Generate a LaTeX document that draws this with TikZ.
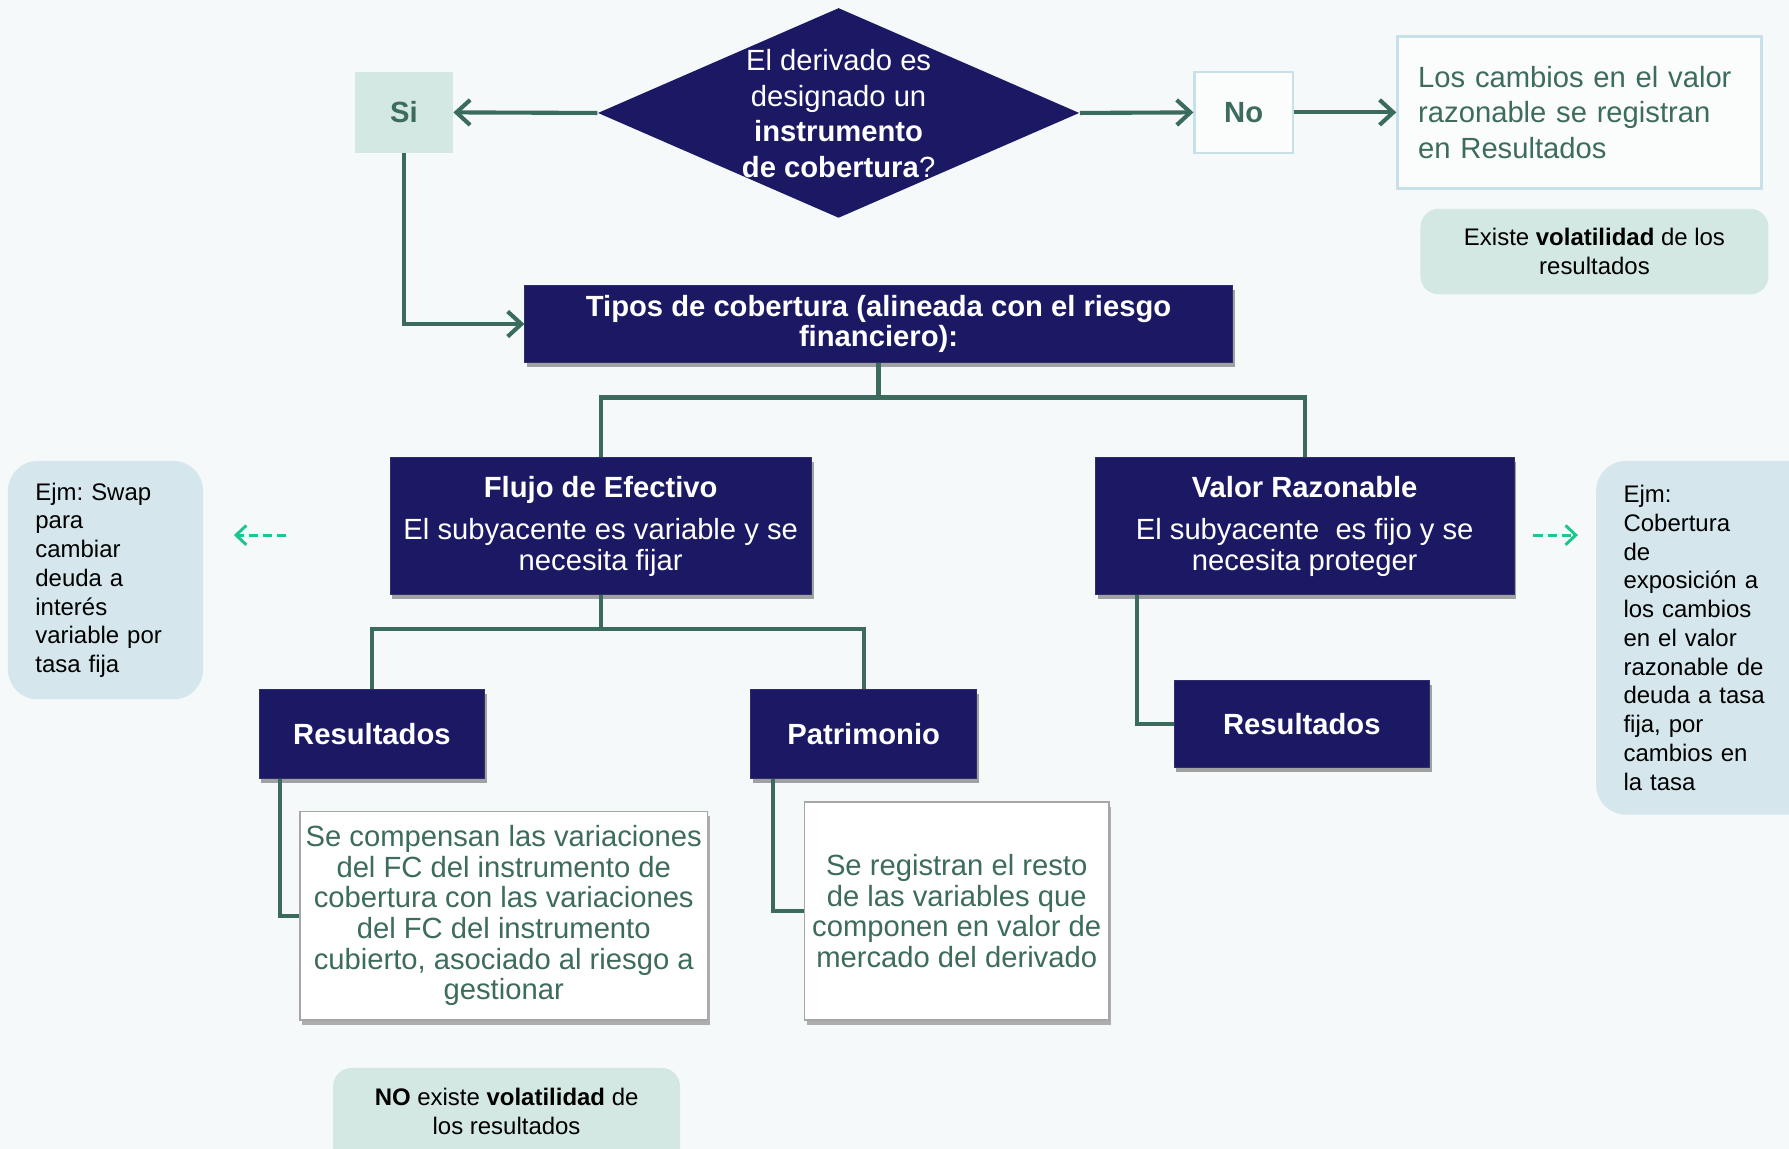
\documentclass[tikz,border=0pt]{standalone}
\usepackage{fontspec}
\setmainfont{Liberation Sans}
\usetikzlibrary{shapes.geometric,arrows.meta,shadows}
\definecolor{bg}{HTML}{F6F9FA}
\definecolor{navy}{HTML}{1C1964}
\definecolor{dgreen}{HTML}{3B6B5E}
\definecolor{tgreen}{HTML}{3D6B5E}
\definecolor{lgreen}{HTML}{D3E8E2}
\definecolor{lblue}{HTML}{D5E7EC}
\definecolor{bord}{HTML}{C8E1E8}
\definecolor{dashc}{HTML}{1CC690}
\frenchspacing
\begin{document}
\begin{tikzpicture}[x=0.5pt,y=-0.5pt,
  navybox/.style={fill=navy,text=white,inner sep=0pt,align=center,
    draw=navy!80!gray,line width=0.4pt,
    drop shadow={shadow xshift=1pt,shadow yshift=-2pt,opacity=0.35,fill=black}},
  whitebox/.style={fill=white,text=tgreen,inner sep=0pt,align=center,
    draw=gray!70,line width=0.6pt,
    drop shadow={shadow xshift=1pt,shadow yshift=-2pt,opacity=0.3,fill=black}},
  softbox/.style={fill=lgreen,rounded corners=8pt,inner sep=0pt,align=center,text=black},
  ejmbox/.style={fill=lblue,rounded corners=13pt,inner sep=0pt,inner xsep=12pt,align=left,text=black},
  conn/.style={draw=dgreen,line width=1.8pt},
  arr/.style={conn,-{Straight Barb[length=6pt,width=11pt]}},
  darr/.style={draw=dashc,line width=1.3pt,dash pattern=on 4pt off 2.2pt,
    -{Straight Barb[length=4.5pt,width=8.5pt]}},
  fmain/.style={font=\fontsize{12.8pt}{15.5pt}\selectfont},
  fsmall/.style={font=\fontsize{10.5pt}{12.6pt}\selectfont},
]
\clip (0,0) rectangle (1568,1007);
\fill[bg] (0,0) rectangle (1568,1007);

% decision
\node[diamond,fill=navy,inner sep=0pt,minimum width=211pt,minimum height=92pt] (d) at (735,99) {};
\node[text=white,align=center,inner sep=0pt,fmain] (dtext) at (735,99.5)
  {El derivado es\\designado un\\\textbf{instrumento}\\\textbf{de cobertura}?};

\node[fill=lgreen,text=tgreen,minimum width=43pt,minimum height=35.5pt,inner sep=0pt,
  font=\fontsize{12.8pt}{15pt}\selectfont\bfseries] (si) at (354,98.5) {Si};
\node[fill=white!60!bg,draw=bord,line width=1pt,text=tgreen,minimum width=43pt,minimum height=35.5pt,inner sep=0pt,
  font=\fontsize{12.8pt}{15pt}\selectfont\bfseries] (no) at (1090,98.5) {No};

\node[fill=white!60!bg,draw=bord,line width=1.2pt,text=tgreen,inner sep=0pt,inner xsep=9pt,
  text width=141.5pt,align=left,minimum height=66.5pt,fmain] (los) at (1384.5,98.5)
  {Los cambios en el valor\\razonable se registran\\en Resultados};

\node[softbox,minimum width=152.5pt,minimum height=37.5pt,fsmall] (exist) at (1397.5,220.5)
  {Existe \textbf{volatilidad} de los\\resultados};

% tipos
\node[navybox,minimum width=310pt,minimum height=34pt,
  font=\fontsize{12.8pt}{13pt}\selectfont\bfseries] (tipos) at (770,284)
  {Tipos de cobertura (alineada con el riesgo\\financiero):};

\node[navybox,minimum width=184.5pt,minimum height=60pt,font=\fontsize{12.8pt}{13.5pt}\selectfont] (flujo) at (526.5,461)
  {\textbf{Flujo de Efectivo}\\[5pt]El subyacente es variable y se\\necesita fijar};
\node[navybox,minimum width=183.5pt,minimum height=60pt,font=\fontsize{12.8pt}{13.5pt}\selectfont] (valor) at (1143.5,461)
  {\textbf{Valor Razonable}\\[5pt]El subyacente\ \ es fijo y se\\necesita proteger};

\node[navybox,minimum width=99pt,minimum height=39pt,font=\fontsize{12.8pt}{15pt}\selectfont\bfseries] (res1) at (326,643) {Resultados};
\node[navybox,minimum width=99pt,minimum height=39pt,font=\fontsize{12.8pt}{15pt}\selectfont\bfseries] (pat) at (757,643) {Patrimonio};
\node[navybox,minimum width=112pt,minimum height=38.5pt,font=\fontsize{12.8pt}{15pt}\selectfont\bfseries] (res2) at (1141,634.5) {Resultados};

\node[whitebox,minimum width=178.5pt,minimum height=91.5pt,font=\fontsize{12.8pt}{13.4pt}\selectfont] (comp) at (441.5,802.5)
  {Se compensan las variaciones\\del FC del instrumento de\\cobertura con las variaciones\\del FC del instrumento\\cubierto, asociado al riesgo a\\gestionar};
\node[whitebox,minimum width=133.5pt,minimum height=95.5pt,font=\fontsize{12.8pt}{13.4pt}\selectfont] (reg) at (838.5,798.5)
  {Se registran el resto\\de las variables que\\componen en valor de\\mercado del derivado};

% examples
\node[ejmbox,text width=61.5pt,minimum height=104.5pt,fsmall] (ejmL) at (92.5,508.5)
  {Ejm: Swap\\para\\cambiar\\deuda a\\interés\\variable por\\tasa fija};
\node[ejmbox,text width=80pt,minimum height=155pt,fsmall] (ejmR) at (1503,559)
  {Ejm:\\Cobertura\\de\\exposición a\\los cambios\\en el valor\\razonable de\\deuda a tasa\\fija, por\\cambios en\\la tasa};

\node[softbox,minimum width=152pt,minimum height=47pt] (noex) at (444,983) {};
\node[text=black,align=center,inner sep=0pt,fsmall] (noextext) at (444,974)
  {\textbf{NO} existe \textbf{volatilidad} de\\los resultados};

% connectors
\draw[arr] (d.west) -- (si.east);
\draw[arr] (d.east) -- (no.west);
\draw[arr] (no.east) -- (los.west);
\draw[arr] (si.south) |- (tipos.west);

\draw[conn] (tipos.south) -- ++(0,30) coordinate (j1);
\draw[conn] (j1) -| (flujo.north);
\draw[conn] (j1) -| (valor.north);

\draw[conn] (flujo.south) -- ++(0,30) coordinate (j2);
\draw[conn] (j2) -| (res1.north);
\draw[conn] (j2) -| (pat.north);

\draw[conn] ([xshift=9.5pt]res1.south west) |- (comp.west);
\draw[conn] ([xshift=10pt]pat.south west) |- (reg.west);
\draw[conn] ([xshift=18.5pt]valor.south west) |- (res2.west);

\coordinate (aL1) at (251,469);
\coordinate (aL2) at (205,469);
\draw[darr] (aL1) -- (aL2);
\coordinate (aR1) at (1344,469);
\coordinate (aR2) at (1383,469);
\draw[darr] (aR1) -- (aR2);
\end{tikzpicture}
\end{document}
